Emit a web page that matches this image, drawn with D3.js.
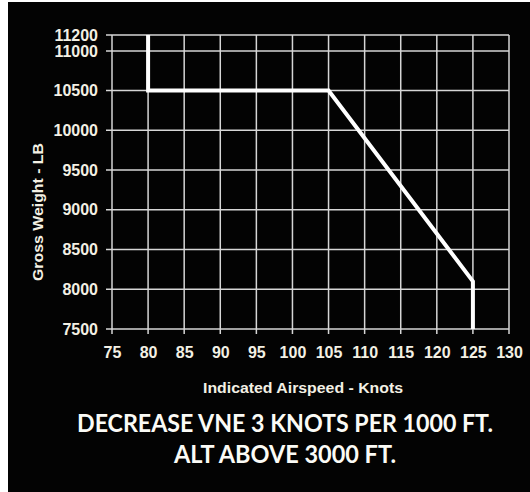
<!DOCTYPE html>
<html>
<head>
<meta charset="utf-8">
<script src="https://cdn.jsdelivr.net/npm/d3@7/dist/d3.min.js"></script>
<style>
  html, body { margin: 0; padding: 0; background: #ffffff; }
  svg { display: block; }
</style>
</head>
<body>
<svg id="chart" width="530" height="492"></svg>
<script>
// ---- data ----
const airspeed = [80, 80, 105, 125, 125];
const grossWeight = [11200, 10500, 10500, 8100, 7500];
const xTicks = [75, 80, 85, 90, 95, 100, 105, 110, 115, 120, 125, 130];
const yTicks = [7500, 8000, 8500, 9000, 9500, 10000, 10500, 11000, 11200];
const xTitle = "Indicated Airspeed - Knots";
const yTitle = "Gross Weight - LB";
const noteLines = ["DECREASE VNE 3 KNOTS PER 1000 FT.", "ALT ABOVE 3000 FT."];

const svg = d3.select("#chart");
const W = 530, H = 492;
const labelColor = "#f3f0e4";
const font = "'Liberation Sans', Arial, sans-serif";

// background (black panel with thin white frame on left/top)
svg.append("rect").attr("x", 0).attr("y", 0).attr("width", W).attr("height", H).attr("fill", "#ffffff");
svg.append("rect").attr("x", 8).attr("y", 2).attr("width", W - 8).attr("height", H - 2).attr("fill", "#030303");

const x = d3.scaleLinear().domain([75, 130]).range([112, 509]);
const y = d3.scaleLinear().domain([7500, 11200]).range([329, 35]);

// grid
const grid = svg.append("g").attr("stroke", "#d6d6d6").attr("stroke-width", 1.5);
grid.selectAll("line.v").data(xTicks).join("line")
  .attr("x1", d => x(d)).attr("x2", d => x(d))
  .attr("y1", y(11200)).attr("y2", y(7500) + 5);
grid.selectAll("line.h").data(yTicks).join("line")
  .attr("x1", x(75) - 6).attr("x2", x(130))
  .attr("y1", d => y(d)).attr("y2", d => y(d));

// axes labels via d3 axes
const xAxis = d3.axisBottom(x).tickValues(xTicks).tickFormat(d3.format("d")).tickSize(0).tickPadding(0);
const gx = svg.append("g").attr("transform", `translate(0,${y(7500) + 23})`).call(xAxis);
gx.select(".domain").remove();
gx.selectAll("text").attr("fill", labelColor).attr("dy", "0.35em")
  .style("font-family", font).style("font-weight", "bold").style("font-size", "16px");

const yAxis = d3.axisLeft(y).tickValues(yTicks).tickFormat(d3.format("d")).tickSize(0).tickPadding(0);
const gy = svg.append("g").attr("transform", `translate(98,0)`).call(yAxis);
gy.select(".domain").remove();
gy.selectAll("text").attr("fill", labelColor)
  .style("font-family", font).style("font-weight", "bold").style("font-size", "16px");

// data line
const line = d3.line().x((d, i) => x(airspeed[i])).y((d, i) => y(grossWeight[i]));
svg.append("path").datum(airspeed).attr("d", line)
  .attr("fill", "none").attr("stroke", "#ffffff").attr("stroke-width", 4)
  .attr("stroke-linejoin", "miter");

// axis titles
svg.append("text").text(xTitle)
  .attr("x", 303).attr("y", 393).attr("text-anchor", "middle")
  .attr("textLength", 200).attr("lengthAdjust", "spacingAndGlyphs")
  .attr("fill", labelColor)
  .style("font-family", font).style("font-weight", "bold").style("font-size", "14px");

svg.append("text").text(yTitle)
  .attr("transform", "translate(43,212) rotate(-90)")
  .attr("text-anchor", "middle")
  .attr("textLength", 138).attr("lengthAdjust", "spacingAndGlyphs")
  .attr("fill", labelColor)
  .style("font-family", font).style("font-weight", "bold").style("font-size", "14px");

// note lines
const noteY = [432, 463];
const noteW = [416, 222];
noteLines.forEach((t, i) => {
  svg.append("text").text(t)
    .attr("x", 285).attr("y", noteY[i]).attr("text-anchor", "middle")
    .attr("textLength", noteW[i]).attr("lengthAdjust", "spacingAndGlyphs")
    .attr("fill", "#fbfbf6")
    .style("font-family", "Lato, 'Open Sans', sans-serif")
    .style("font-weight", "bold").style("font-size", "25px");
});
</script>
</body>
</html>
